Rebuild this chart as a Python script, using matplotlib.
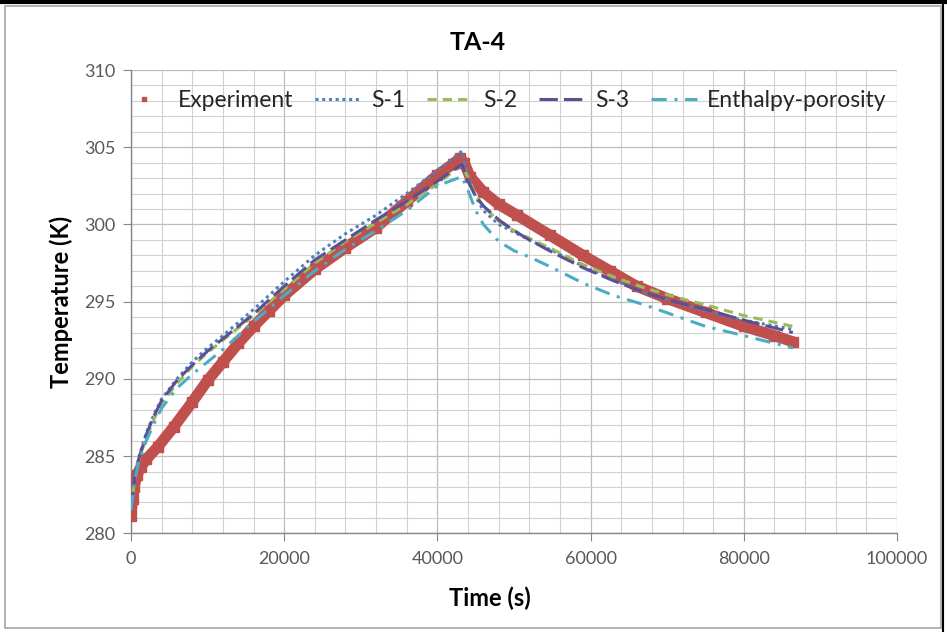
import matplotlib
matplotlib.use("Agg")
import matplotlib.pyplot as plt
from matplotlib.lines import Line2D
from matplotlib.patches import Rectangle
from matplotlib.ticker import MultipleLocator

# ---------------- data ----------------
exp_t = [0, 200, 400, 800, 1300, 2000, 3500, 5600, 8000, 10000, 12000, 14000,
         16000, 18000, 20000, 24000, 28000, 32000, 36000, 40000, 42000, 43000,
         43500, 44250, 46000, 48000, 50400, 54700, 59000, 62500, 66000, 70000,
         75000, 80000, 84000, 86400]
exp_T = [281.1, 282.2, 283.0, 283.8, 284.3, 284.8, 285.6, 286.9, 288.5, 289.9,
         291.1, 292.3, 293.4, 294.4, 295.4, 297.1, 298.5, 299.8, 301.5, 303.2,
         303.9, 304.3, 304.0, 303.1, 302.1, 301.3, 300.6, 299.3, 298.0, 297.0,
         296.0, 295.2, 294.3, 293.4, 292.8, 292.4]

sim_t = [0, 500, 1000, 2000, 3000, 4000, 6000, 8000, 10000, 12000, 16000, 20000,
         24000, 28000, 32000, 36000, 40000, 43200, 44000, 45000, 46000, 48000,
         50000, 52000, 55000, 59000, 63000, 67000, 71000, 75000, 80000, 86400]
s1_T = [281.5, 283.8, 284.9, 286.5, 287.7, 288.7, 290.0, 291.1, 292.0, 292.8,
        294.5, 296.3, 298.0, 299.4, 300.6, 302.0, 303.5, 304.75,
        303.2, 301.8, 300.9, 300.0, 299.5, 299.0, 298.3, 297.3, 296.4, 295.6,
        295.0, 294.4, 293.8, 293.2]
s2_T = [281.5, 283.6, 284.7, 286.2, 287.4, 288.4, 289.7, 290.8, 291.7, 292.5,
        294.1, 295.8, 297.5, 298.9, 300.1, 301.3, 302.6, 303.9,
        303.0, 301.9, 301.2, 300.2, 299.6, 299.1, 298.4, 297.4, 296.6, 295.9,
        295.3, 294.8, 294.1, 293.4]
s3_T = [281.5, 283.7, 284.8, 286.4, 287.6, 288.6, 289.9, 290.9, 291.8, 292.6,
        294.2, 296.0, 297.7, 299.0, 300.3, 301.5, 302.8, 303.9,
        302.8, 301.8, 301.2, 300.3, 299.6, 299.0, 298.2, 297.2, 296.35, 295.6,
        295.0, 294.5, 293.8, 293.0]
ep_T = [281.5, 283.5, 284.6, 286.0, 287.1, 288.1, 289.4, 290.3, 291.1, 291.9,
        293.7, 295.4, 297.0, 298.4, 299.6, 300.9, 302.5, 303.1,
        302.2, 300.9, 300.0, 298.9, 298.3, 297.9, 297.2, 296.2, 295.4, 294.8,
        294.1, 293.4, 292.8, 292.0]

labels = ["Experiment", "S-1", "S-2", "S-3", "Enthalpy-porosity"]
title = "TA-4"
xlabel = "Time (s)"
ylabel = "Temperature (K)"

# ---------------- style ----------------
plt.rcParams['font.family'] = ['Lato', 'DejaVu Sans']
RED = '#C0504D'
BLUE = '#4F81BD'
GREEN = '#9BBB59'
PURPLE = '#5B4F96'
AQUA = '#4BACC6'

fig = plt.figure(figsize=(9.47, 6.32), dpi=100)
fig.patch.set_facecolor('white')

# chart-area frame decorations
fig.add_artist(Rectangle((5/947, 4/632), 936/947, 622/632, transform=fig.transFigure,
                         fill=False, edgecolor='#a6a6a6', linewidth=1.2))
fig.add_artist(Line2D([0, 1], [1 - 1.5/632, 1 - 1.5/632], transform=fig.transFigure,
                      color='black', linewidth=3))
fig.add_artist(Line2D([943/947, 943/947], [0, 1], transform=fig.transFigure,
                      color='black', linewidth=1.5))

ax = fig.add_axes([131/947, 1 - 533.3/632, (897 - 131)/947, (533.3 - 70)/632])

ax.plot(exp_t, exp_T, color=RED, linewidth=8, solid_capstyle='round', zorder=3)
ax.plot(exp_t, exp_T, linestyle='none', marker='s', markersize=7, color=RED, zorder=3)
ax.plot(sim_t, s1_T, color=BLUE, linestyle=(0, (1, 1.2)), linewidth=2.2, zorder=4)
ax.plot(sim_t, s2_T, color=GREEN, linestyle=(0, (3, 2)), linewidth=2.2, zorder=4)
ax.plot(sim_t, s3_T, color=PURPLE, linestyle=(0, (6, 2)), linewidth=2.2, zorder=4)
ax.plot(sim_t, ep_T, color=AQUA, linestyle=(0, (5, 2.5, 1, 2.5)), linewidth=2.2, zorder=4)

ax.set_xlim(0, 100000)
ax.set_ylim(280, 310)
ax.xaxis.set_major_locator(MultipleLocator(20000))
ax.xaxis.set_minor_locator(MultipleLocator(4000))
ax.yaxis.set_major_locator(MultipleLocator(5))
ax.yaxis.set_minor_locator(MultipleLocator(1))
ax.grid(which='major', color='#bdbdbd', linewidth=0.9)
ax.grid(which='minor', color='#d0d0d0', linewidth=0.8)
ax.set_axisbelow(True)

for s in ['top', 'right']:
    ax.spines[s].set_visible(False)
for s in ['left', 'bottom']:
    ax.spines[s].set_color('#868686')
    ax.spines[s].set_linewidth(1.0)

ax.tick_params(axis='both', which='major', length=6, color='#868686',
               labelsize=13, labelcolor='#595959')
ax.tick_params(axis='both', which='minor', length=0)
ax.tick_params(axis='x', pad=7)
ax.tick_params(axis='y', pad=5)

fig.text(478/947, 1 - 42/632, title, ha='center', va='center',
         fontsize=18, fontweight='bold', color='black')
ax.set_xlabel(xlabel, fontsize=17, fontweight='bold')
ax.set_ylabel(ylabel, fontsize=17, fontweight='bold')
ax.xaxis.set_label_coords((490 - 131) / 766, (533.3 - 587) / 463.3)
ax.yaxis.set_label_coords((73 - 131) / 766, 0.5)

handles = [
    Line2D([], [], linestyle='none', marker='s', markersize=3.5, color=RED),
    Line2D([], [], color=BLUE, linestyle=(0, (1, 1.2)), linewidth=2.2),
    Line2D([], [], color=GREEN, linestyle=(0, (3, 2)), linewidth=2.2),
    Line2D([], [], color=PURPLE, linestyle=(0, (6, 2)), linewidth=2.2),
    Line2D([], [], color=AQUA, linestyle=(0, (5, 2.5, 1, 2.5)), linewidth=2.2),
]
leg = ax.legend(handles, labels, loc='upper center', bbox_to_anchor=(0.487, 0.997),
                ncol=5, frameon=False, fontsize=16.5, handlelength=2.0,
                handletextpad=0.45, columnspacing=0.95, borderpad=0.3)
for t in leg.get_texts():
    t.set_color('#262626')

fig.savefig('out.png', dpi=100)
